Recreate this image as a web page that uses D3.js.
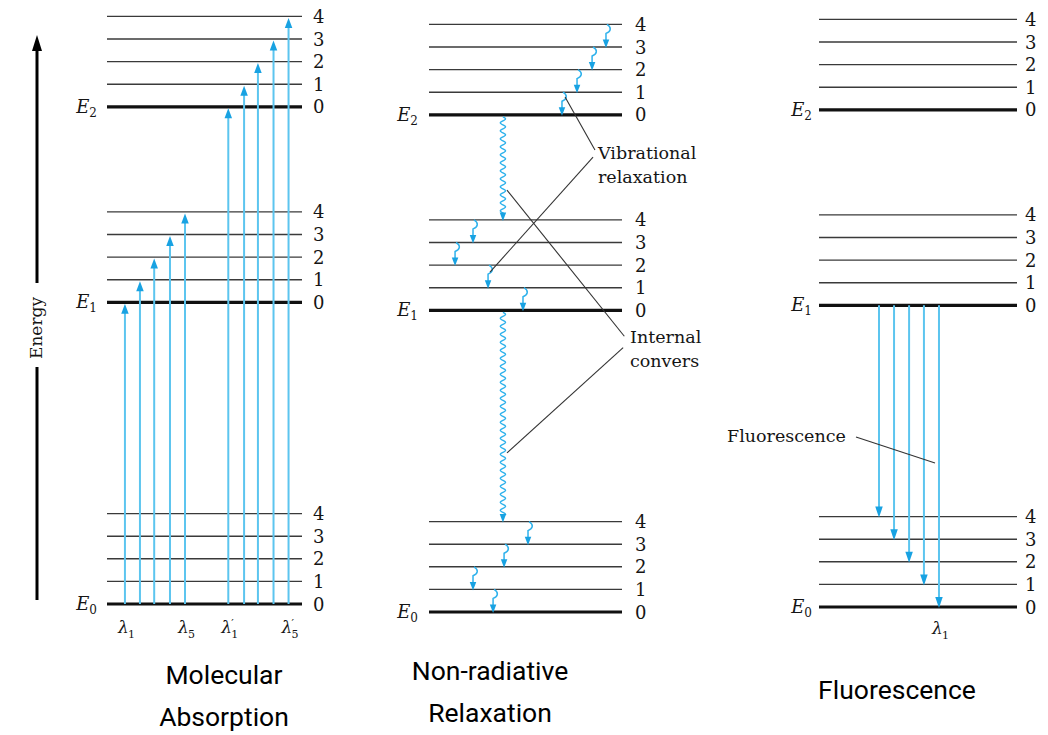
<!DOCTYPE html>
<html><head><meta charset="utf-8">
<script src="https://cdn.jsdelivr.net/npm/d3@7"></script>
<style>body{margin:0;background:#fff}</style>
</head><body><svg id="c" width="1048" height="735"></svg>
<script>
// ---------------- data ----------------
const vibQuanta = [0, 1, 2, 3, 4];
const stateSubscripts = ["0", "1", "2"];
const stateEnergies = [0, 13.35, 22.0];          // in units of vibrational spacing
const panelTitles = [["Molecular", "Absorption"], ["Non-radiative", "Relaxation"], ["Fluorescence"]];

// absorption: from E0 v0 to [state, vib]; position = fraction along the level line
const absTargetState = [1, 1, 1, 1, 1, 2, 2, 2, 2, 2];
const absTargetVib   = [0, 1, 2, 3, 4, 0, 1, 2, 3, 4];
const absPos = [0.092, 0.169, 0.242, 0.323, 0.400, 0.622, 0.703, 0.774, 0.854, 0.931];
const absLabelIdx = [0, 4, 5, 9];
const absLabelSub = ["1", "5", "1", "5"];
const absLabelPrime = ["", "", "′", "′"];

// vibrational relaxation (panel 2): state, from vib -> vib-1
const vrState = [2, 2, 2, 2, 1, 1, 1, 1, 0, 0, 0, 0];
const vrFrom  = [4, 3, 2, 1, 4, 3, 2, 1, 4, 3, 2, 1];
const vrPos   = [0.917, 0.845, 0.767, 0.689, 0.228, 0.135, 0.306, 0.487, 0.513, 0.389, 0.228, 0.332];
// internal conversion: from state v0 to [state, vib]
const icFrom = [2, 1];
const icToState = [1, 0];
const icToVib = [4, 4];
const icPos = [0.383, 0.383];

// fluorescence (panel 3): from E1 v0 to E0 vib
const flTargetVib = [4, 3, 2, 1, 0];
const flPos = [0.303, 0.379, 0.455, 0.530, 0.606];

// ---------------- layout ----------------
const W = 1048, H = 735;
const unit = 22.6;
const panels = [
  {x0: 107, x1: 302, base: 604, numGap: 11, eGap: 10},
  {x0: 429, x1: 622, base: 612, numGap: 13, eGap: 11},
  {x0: 819, x1: 1017, base: 607, numGap: 8, eGap: 7}
];
panels.forEach(p => {
  p.x = d3.scaleLinear().domain([0, 1]).range([p.x0, p.x1]);
  p.y = d3.scaleLinear().domain([0, 26]).range([p.base, p.base - 26 * unit]);
});

const svg = d3.select("#c");
svg.append("rect").attr("width", W).attr("height", H).attr("fill", "#fff");

const SERIF = "'DejaVu Serif', 'Liberation Serif', serif";
const TXT = "#151515";
const BLUE_LINE = "#5cc5ef";
const BLUE_HEAD = "#18a2e2";
const WAVE = "#2fb2ec";

function head(g, x, tipY, dir, w, len, color) {
  const b = tipY - dir * len;
  g.append("path")
    .attr("d", `M${x},${tipY} L${x - w / 2},${b} L${x + w / 2},${b} Z`)
    .attr("fill", color);
}

function lambda(g, x, y, sub, prime) {
  g.append("text").attr("x", x).attr("y", y).attr("font-family", SERIF)
    .attr("font-size", 17).attr("font-style", "italic").attr("fill", TXT).text("λ");
  g.append("text").attr("x", x + 10).attr("y", y + 5).attr("font-family", SERIF)
    .attr("font-size", 11).attr("fill", TXT).text(sub);
  if (prime) g.append("text").attr("x", x + 10).attr("y", y - 6).attr("font-family", SERIF)
    .attr("font-size", 11).attr("fill", TXT).text(prime);
}

// ---------------- energy axis ----------------
const eAxis = svg.append("g");
const eScale = d3.scaleLinear().domain([0, 1]).range([600, 35]);
eAxis.append("line").attr("x1", 37).attr("x2", 37).attr("y1", eScale(0)).attr("y2", 367)
  .attr("stroke", "#000").attr("stroke-width", 3);
eAxis.append("line").attr("x1", 37).attr("x2", 37).attr("y1", 283).attr("y2", eScale(1) + 10)
  .attr("stroke", "#000").attr("stroke-width", 3);
head(eAxis, 37, eScale(1), -1, 10, 16, "#000");
eAxis.append("text").attr("transform", "translate(42,328) rotate(-90)")
  .attr("text-anchor", "middle").attr("font-family", SERIF).attr("font-size", 17)
  .attr("fill", TXT).text("Energy");

// ---------------- levels ----------------
panels.forEach((p, pi) => {
  const g = svg.append("g");
  stateEnergies.forEach((E, s) => {
    vibQuanta.forEach(v => {
      const yy = p.y(E + v);
      g.append("line").attr("x1", p.x0).attr("x2", p.x1).attr("y1", yy).attr("y2", yy)
        .attr("stroke", v === 0 ? "#111" : "#3a3a3a").attr("stroke-width", v === 0 ? 3.2 : 1.4);
      g.append("text").attr("x", p.x1 + p.numGap).attr("y", yy + 6.5)
        .attr("font-family", SERIF).attr("font-size", 18).attr("fill", TXT).text(v);
    });
    const t = g.append("text").attr("x", p.x0 - p.eGap).attr("y", p.y(E) + 6)
      .attr("text-anchor", "end").attr("font-family", SERIF).attr("fill", TXT);
    t.append("tspan").attr("font-size", 18).attr("font-style", "italic").text("E");
    t.append("tspan").attr("font-size", 12).attr("dy", 4).text(stateSubscripts[s]);
  });
  const cx = pi === 0 ? 224 : pi === 1 ? 490 : 897;
  const lines = panelTitles[pi];
  const y0 = lines.length === 2 ? (pi === 0 ? 684 : 680) : 699;
  lines.forEach((ln, li) => {
    svg.append("text").attr("x", cx).attr("y", y0 + li * 42).attr("text-anchor", "middle")
      .attr("font-family", "Roboto, 'Noto Sans', sans-serif").attr("font-size", 26.5)
      .attr("fill", "#000").text(ln);
  });
});

// ---------------- panel 1: absorption ----------------
{
  const p = panels[0];
  const g = svg.append("g");
  absPos.forEach((f, i) => {
    const x = p.x(f);
    const tip = p.y(stateEnergies[absTargetState[i]] + absTargetVib[i]) + 1.5;
    g.append("line").attr("x1", x).attr("x2", x).attr("y1", p.y(0)).attr("y2", tip + 8)
      .attr("stroke", BLUE_LINE).attr("stroke-width", 2);
    head(g, x, tip, -1, 7.5, 10, BLUE_HEAD);
  });
  absLabelIdx.forEach((idx, k) => {
    lambda(g, p.x(absPos[idx]) - 7, p.y(0) + 29, absLabelSub[k], absLabelPrime[k]);
  });
}

// ---------------- panel 2: non-radiative ----------------
{
  const p = panels[1];
  const g = svg.append("g");
  vrPos.forEach((f, i) => {
    const x = p.x(f);
    const yTop = p.y(stateEnergies[vrState[i]] + vrFrom[i]);
    const tip = p.y(stateEnergies[vrState[i]] + vrFrom[i] - 1) + 1;
    g.append("path")
      .attr("d", `M${x + 1},${yTop} C${x + 6},${yTop + 3} ${x + 5},${yTop + 7} ${x},${yTop + 9} L${x},${tip - 7}`)
      .attr("fill", "none").attr("stroke", WAVE).attr("stroke-width", 1.5);
    head(g, x, tip, 1, 6.5, 8.5, BLUE_HEAD);
  });
  icFrom.forEach((s, i) => {
    const x = p.x(icPos[i]);
    const y1 = p.y(stateEnergies[s]) + 2;
    const tip = p.y(stateEnergies[icToState[i]] + icToVib[i]) + 1;
    const pts = d3.range(y1, tip - 8, 0.5).map(yy => [x + 2.6 * Math.sin((yy - y1) / 8 * 2 * Math.PI), yy]);
    pts.push([x, tip - 7]);
    g.append("path").attr("d", d3.line()(pts)).attr("fill", "none")
      .attr("stroke", WAVE).attr("stroke-width", 1.4);
    head(g, x, tip, 1, 6.5, 8.5, BLUE_HEAD);
  });
  const callouts = [
    [[0.705, 22.79], [0.860, 20.44]],
    [[0.850, 20.13], [0.316, 15.04]],
    [[0.404, 18.67], [1.012, 12.20]],
    [[1.006, 11.70], [0.404, 7.04]]
  ];
  callouts.forEach(c => {
    g.append("line").attr("x1", p.x(c[0][0])).attr("y1", p.y(c[0][1]))
      .attr("x2", p.x(c[1][0])).attr("y2", p.y(c[1][1]))
      .attr("stroke", "#333").attr("stroke-width", 1.1);
  });
  const lbl = [["Vibrational", 598, 159], ["relaxation", 598, 183], ["Internal", 630, 343], ["convers", 630, 367]];
  lbl.forEach(l => g.append("text").attr("x", l[1]).attr("y", l[2]).attr("font-family", SERIF)
    .attr("font-size", 17.5).attr("fill", TXT).text(l[0]));
}

// ---------------- panel 3: fluorescence ----------------
{
  const p = panels[2];
  const g = svg.append("g");
  flPos.forEach((f, i) => {
    const x = p.x(f);
    const tip = p.y(flTargetVib[i]) + 1;
    g.append("line").attr("x1", x).attr("x2", x).attr("y1", p.y(stateEnergies[1])).attr("y2", tip - 8)
      .attr("stroke", BLUE_LINE).attr("stroke-width", 2);
    head(g, x, tip, 1, 7.5, 11, BLUE_HEAD);
  });
  g.append("line").attr("x1", 856).attr("y1", 437).attr("x2", 935).attr("y2", 463)
    .attr("stroke", "#333").attr("stroke-width", 1.1);
  g.append("text").attr("x", 727).attr("y", 442).attr("font-family", SERIF)
    .attr("font-size", 17.5).attr("fill", TXT).text("Fluorescence");
  lambda(g, p.x(flPos[4]) - 7, p.y(0) + 27, "1", "");
}
</script></body></html>
